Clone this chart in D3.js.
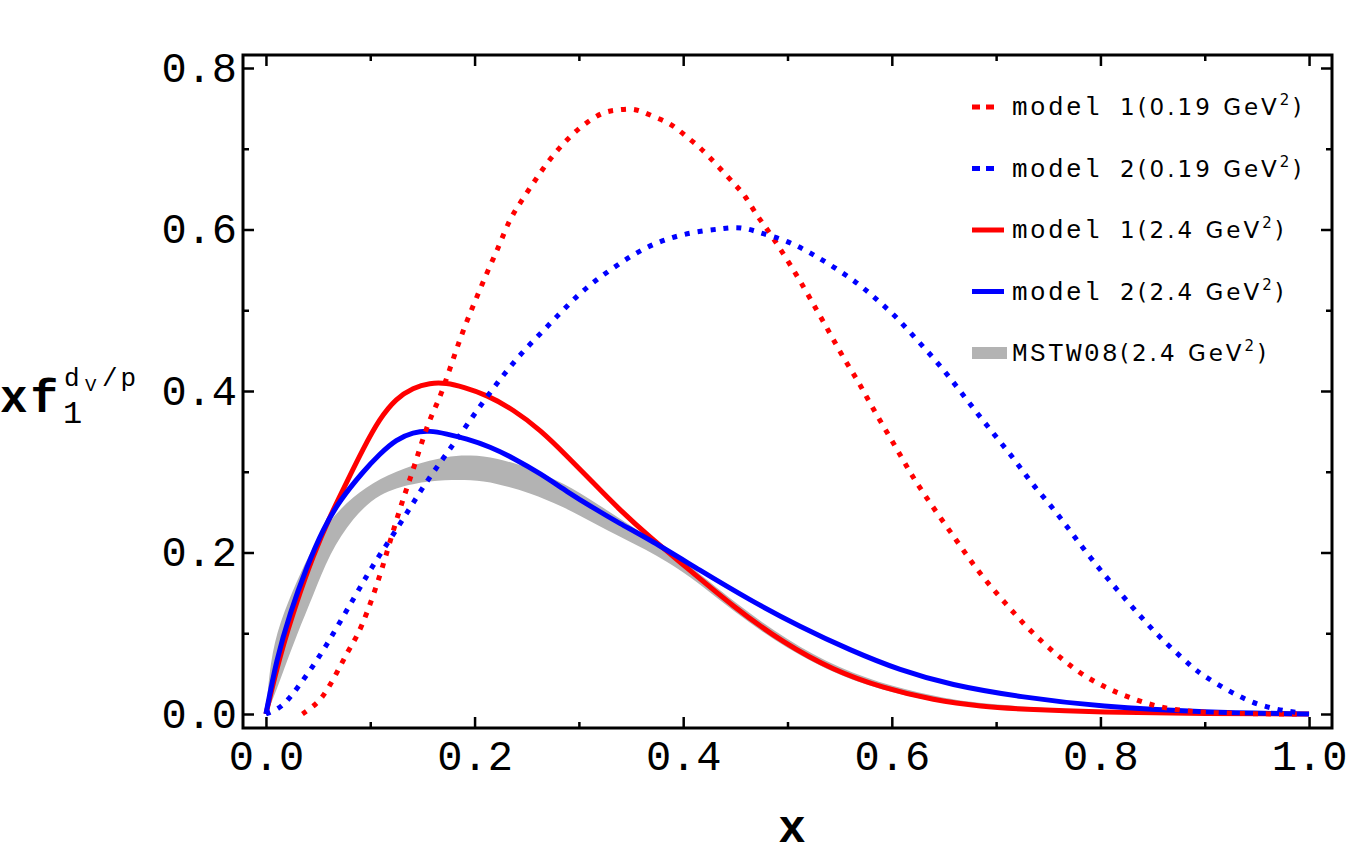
<!DOCTYPE html>
<html>
<head>
<meta charset="utf-8">
<script src="https://cdn.jsdelivr.net/npm/d3@7"></script>
<style>
  body { margin: 0; background: #fff; }
  svg text { fill: #000; }
</style>
</head>
<body>
<div id="viz"></div>
<script>
const width = 1350;
const height = 859;
// frame of the plot, in pixels
const frame = {left: 243, right: 1332, top: 55, bottom: 728};

// model 1 at 0.19 GeV^2 (red dotted)
const model1Low = [[0.035,0],[0.045,0.009],[0.055,0.021],[0.068,0.051],[0.079,0.079],[0.087,0.095],[0.097,0.125],
  [0.109,0.170],[0.117,0.205],[0.125,0.240],[0.133,0.272],[0.141,0.302],[0.148,0.331],[0.155,0.358],[0.162,0.379],
  [0.167,0.393],[0.176,0.426],[0.184,0.457],[0.193,0.488],[0.203,0.519],[0.213,0.550],[0.224,0.581],[0.232,0.608],
  [0.241,0.628],[0.255,0.655],[0.269,0.682],[0.285,0.707],[0.303,0.729],[0.323,0.746],[0.337,0.748],[0.351,0.750],
  [0.361,0.746],[0.373,0.739],[0.385,0.733],[0.395,0.724],[0.405,0.713],[0.416,0.702],[0.433,0.679],[0.450,0.655],
  [0.459,0.643],[0.471,0.616],[0.480,0.602],[0.500,0.562],[0.515,0.530],[0.528,0.500],[0.541,0.471],[0.553,0.442],
  [0.567,0.414],[0.579,0.385],[0.592,0.356],[0.605,0.328],[0.617,0.300],[0.630,0.274],[0.646,0.244],[0.662,0.215],
  [0.677,0.187],[0.692,0.162],[0.709,0.137],[0.726,0.112],[0.745,0.088],[0.764,0.067],[0.783,0.048],[0.806,0.032],
  [0.828,0.020],[0.854,0.009],[0.883,0.003],[0.920,0.001],[0.960,0],[0.990,0]];

// model 2 at 0.19 GeV^2 (blue dotted)
const model2Low = [[0,0],[0.012,0.006],[0.021,0.017],[0.030,0.032],[0.044,0.057],[0.058,0.085],[0.071,0.114],
  [0.085,0.145],[0.097,0.172],[0.109,0.197],[0.122,0.222],[0.138,0.255],[0.152,0.284],[0.169,0.315],[0.183,0.340],
  [0.198,0.368],[0.213,0.395],[0.229,0.422],[0.245,0.447],[0.263,0.471],[0.281,0.495],[0.299,0.519],[0.318,0.539],
  [0.339,0.558],[0.361,0.576],[0.385,0.589],[0.410,0.597],[0.437,0.601],[0.450,0.603],[0.462,0.601],[0.476,0.595],
  [0.500,0.586],[0.522,0.571],[0.544,0.554],[0.567,0.534],[0.586,0.513],[0.605,0.491],[0.622,0.466],[0.640,0.441],
  [0.656,0.416],[0.672,0.389],[0.687,0.364],[0.704,0.337],[0.720,0.311],[0.735,0.284],[0.752,0.259],[0.768,0.232],
  [0.783,0.206],[0.800,0.178],[0.816,0.154],[0.833,0.129],[0.850,0.104],[0.870,0.079],[0.889,0.057],[0.898,0.048],
  [0.921,0.030],[0.943,0.015],[0.969,0.005],[0.994,0.001]];

// model 1 at 2.4 GeV^2 (red solid)
const model1High = [[0,0],[0.013,0.071],[0.030,0.141],[0.045,0.195],[0.061,0.244],[0.077,0.286],[0.093,0.328],
  [0.109,0.366],[0.125,0.391],[0.141,0.404],[0.157,0.410],[0.173,0.410],[0.189,0.405],[0.212,0.395],[0.237,0.377],
  [0.263,0.352],[0.289,0.319],[0.314,0.286],[0.339,0.253],[0.368,0.219],[0.400,0.185],[0.448,0.133],[0.496,0.088],
  [0.544,0.054],[0.592,0.032],[0.640,0.017],[0.687,0.009],[0.723,0.006],[0.800,0.002],[0.900,0.0005],[1.0,0]];

// model 2 at 2.4 GeV^2 (blue solid)
const model2High = [[0,0],[0.010,0.067],[0.023,0.125],[0.039,0.182],[0.055,0.230],[0.071,0.265],[0.093,0.300],
  [0.109,0.322],[0.125,0.340],[0.141,0.349],[0.157,0.351],[0.173,0.347],[0.192,0.341],[0.215,0.331],[0.237,0.317],
  [0.263,0.298],[0.289,0.275],[0.314,0.255],[0.339,0.236],[0.368,0.216],[0.416,0.178],[0.464,0.141],[0.512,0.108],
  [0.560,0.079],[0.608,0.054],[0.656,0.036],[0.723,0.021],[0.800,0.009],[0.900,0.002],[1.0,0]];

// MSTW08 band at 2.4 GeV^2
const bandX    = [0, 0.004, 0.013, 0.030, 0.045, 0.061, 0.083, 0.109, 0.141, 0.173, 0.196, 0.221, 0.253, 0.285, 0.317, 0.359, 0.40, 0.45, 0.50, 0.55, 0.60, 0.65, 0.70, 0.80, 0.90, 1.0];
const bandUpper= [0, 0.065, 0.113, 0.166, 0.207, 0.240, 0.269, 0.292, 0.309, 0.319, 0.321, 0.317, 0.305, 0.286, 0.261, 0.225, 0.191, 0.137, 0.091, 0.056, 0.034, 0.019, 0.011, 0.003, 0.0008, 0];
const bandLower= [0, 0.009, 0.040, 0.100, 0.146, 0.199, 0.243, 0.274, 0.286, 0.290, 0.290, 0.286, 0.274, 0.257, 0.234, 0.207, 0.178, 0.125, 0.080, 0.047, 0.026, 0.013, 0.006, 0.001, 0.0002, 0];

const majorTicks = [0, 0.2, 0.4, 0.6, 0.8, 1.0];
const yMajorTicks = [0, 0.2, 0.4, 0.6, 0.8];
const minorTicks = [0.1, 0.3, 0.5, 0.7, 0.9];
const yMinorTicks = [0.1, 0.3, 0.5, 0.7];

const legendItems = [
  { name: 'model', rest: '1(0.19 GeV', color: '#ff0000', kind: 'dot' },
  { name: 'model', rest: '2(0.19 GeV', color: '#0000ff', kind: 'dot' },
  { name: 'model', rest: '1(2.4 GeV', color: '#ff0000', kind: 'line' },
  { name: 'model', rest: '2(2.4 GeV', color: '#0000ff', kind: 'line' },
  { name: 'MSTW08', rest: '(2.4 GeV', color: '#b3b3b3', kind: 'band' },
];

const svg = d3.select('#viz').append('svg')
  .attr('width', width)
  .attr('height', height);

const x = d3.scaleLinear().domain([-0.022, 1.022]).range([frame.left, frame.right]);
const y = d3.scaleLinear().domain([-0.01734, 0.8161]).range([frame.bottom, frame.top]);

const mono = '"Liberation Mono", "DejaVu Sans Mono", monospace';
const sans = '"DejaVu Sans", "Liberation Sans", sans-serif';

// gray band
const band = bandX.map((v, i) => ({x: v, lo: bandLower[i], hi: bandUpper[i]}));
svg.append('path')
  .datum(band)
  .attr('fill', '#b3b3b3')
  .attr('d', d3.area()
    .x(d => x(d.x))
    .y0(d => y(d.lo))
    .y1(d => y(d.hi))
    .curve(d3.curveBasis));

const line = d3.line()
  .x(d => x(d[0]))
  .y(d => y(d[1]))
  .curve(d3.curveBasis);

const series = [
  { data: model1High, color: '#ff0000', dash: null },
  { data: model2High, color: '#0000ff', dash: null },
  { data: model1Low, color: '#ff0000', dash: '5,8' },
  { data: model2Low, color: '#0000ff', dash: '5,8' },
];

svg.append('g')
  .selectAll('path')
  .data(series)
  .join('path')
    .attr('d', d => line(d.data))
    .attr('fill', 'none')
    .attr('stroke', d => d.color)
    .attr('stroke-width', 5)
    .attr('stroke-dasharray', d => d.dash);

// axes, ticks pointing inward
const styleAxis = g => {
  g.select('.domain').remove();
  g.selectAll('line').attr('stroke', '#000').attr('stroke-width', 2.5);
  g.selectAll('text')
    .style('font-family', mono)
    .style('font-size', '42px')
    .attr('fill', '#000');
};

svg.append('g')
  .attr('transform', `translate(0,${frame.bottom})`)
  .call(d3.axisBottom(x).tickValues(majorTicks).tickSize(-11).tickPadding(12).tickFormat(d3.format('.1f')))
  .call(styleAxis);
svg.append('g')
  .attr('transform', `translate(0,${frame.bottom})`)
  .call(d3.axisBottom(x).tickValues(minorTicks).tickSize(-6).tickFormat(''))
  .call(styleAxis);
svg.append('g')
  .attr('transform', `translate(0,${frame.top})`)
  .call(d3.axisTop(x).tickValues(majorTicks).tickSize(-11).tickFormat(''))
  .call(styleAxis);
svg.append('g')
  .attr('transform', `translate(0,${frame.top})`)
  .call(d3.axisTop(x).tickValues(minorTicks).tickSize(-6).tickFormat(''))
  .call(styleAxis);

svg.append('g')
  .attr('transform', `translate(${frame.left},0)`)
  .call(d3.axisLeft(y).tickValues(yMajorTicks).tickSize(-11).tickPadding(6).tickFormat(d3.format('.1f')))
  .call(styleAxis);
svg.append('g')
  .attr('transform', `translate(${frame.left},0)`)
  .call(d3.axisLeft(y).tickValues(yMinorTicks).tickSize(-6).tickFormat(''))
  .call(styleAxis);
svg.append('g')
  .attr('transform', `translate(${frame.right},0)`)
  .call(d3.axisRight(y).tickValues(yMajorTicks).tickSize(-11).tickFormat(''))
  .call(styleAxis);
svg.append('g')
  .attr('transform', `translate(${frame.right},0)`)
  .call(d3.axisRight(y).tickValues(yMinorTicks).tickSize(-6).tickFormat(''))
  .call(styleAxis);

// frame
svg.append('rect')
  .attr('x', frame.left)
  .attr('y', frame.top)
  .attr('width', frame.right - frame.left)
  .attr('height', frame.bottom - frame.top)
  .attr('fill', 'none')
  .attr('stroke', '#000')
  .attr('stroke-width', 3);

// axis labels
svg.append('text')
  .attr('x', 792)
  .attr('y', 842)
  .attr('text-anchor', 'middle')
  .style('font-family', mono)
  .style('font-weight', 'bold')
  .style('font-size', '46px')
  .text('x');

const yl = svg.append('g');
yl.append('text')
  .attr('x', 0).attr('y', 412)
  .style('font-family', mono).style('font-weight', 'bold').style('font-size', '46px')
  .style('letter-spacing', '3px')
  .text('xf');
yl.append('text')
  .attr('x', 63).attr('y', 423)
  .style('font-family', mono).style('font-size', '32px')
  .text('1');
yl.append('text')
  .attr('x', 64).attr('y', 386)
  .style('font-family', mono).style('font-size', '26px')
  .text('d');
yl.append('text')
  .attr('x', 85).attr('y', 391)
  .style('font-family', mono).style('font-size', '19px')
  .text('V');
yl.append('text')
  .attr('x', 102).attr('y', 386)
  .style('font-family', mono).style('font-size', '26px')
  .style('letter-spacing', '3px')
  .text('/p');

// legend
const legendTop = 107;
const legendStep = 61.5;
const leg = svg.append('g');
legendItems.forEach((d, i) => {
  const cy = legendTop + i * legendStep;
  if (d.kind === 'dot') {
    leg.append('line')
      .attr('x1', 972).attr('x2', 994).attr('y1', cy).attr('y2', cy)
      .attr('stroke', d.color).attr('stroke-width', 5).attr('stroke-dasharray', '8,6');
  } else if (d.kind === 'line') {
    leg.append('line')
      .attr('x1', 972).attr('x2', 1004).attr('y1', cy).attr('y2', cy)
      .attr('stroke', d.color).attr('stroke-width', 5);
  } else {
    leg.append('rect')
      .attr('x', 972).attr('y', cy - 6).attr('width', 35).attr('height', 12)
      .attr('fill', d.color);
  }
  const t = leg.append('text')
    .attr('x', 1012).attr('y', cy + 8);
  t.append('tspan')
    .style('font-family', mono).style('font-size', '26px').style('letter-spacing', '2.4px')
    .text(d.name + (d.kind === 'band' ? '' : ' '));
  t.append('tspan')
    .style('font-family', sans).style('font-size', '23px').style('letter-spacing', '3px')
    .text(d.rest);
  t.append('tspan')
    .attr('dy', -10)
    .style('font-family', sans).style('font-size', '15px')
    .text('2');
  t.append('tspan')
    .attr('dy', 10)
    .attr('dx', 3)
    .style('font-family', sans).style('font-size', '23px')
    .text(')');
});
</script>
</body>
</html>
